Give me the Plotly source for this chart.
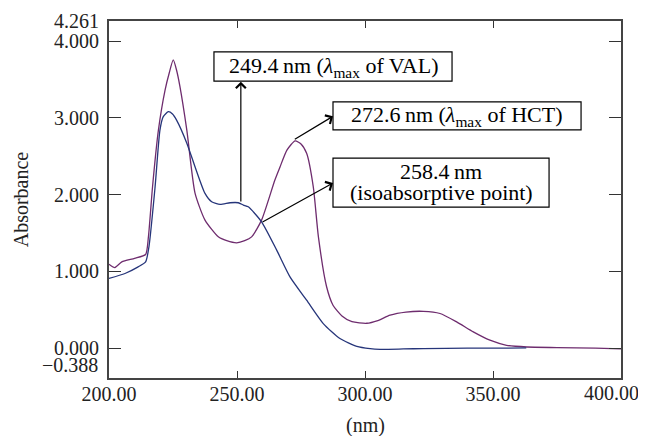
import plotly.graph_objects as go

# Wavelength (nm) and absorbance
wl_mix = [200.0, 202.3, 205.0, 210.0, 214.3, 215.4, 217.0, 219.3, 221.9, 223.5, 225.1, 226.4, 227.7, 230.4,
          233.6, 237.5, 242.7, 246.0, 249.9, 253.0, 255.7, 259.6, 264.8, 266.8, 269.5, 272.7, 275.0, 277.2,
          279.8, 281.8, 285.0, 287.5, 291.0, 294.9, 300.7, 305.0, 309.8, 316.0, 322.8, 329.3, 335.8, 342.3,
          348.8, 355.3, 363.2, 375.0, 390.0, 400.0]
abs_mix = [1.094, 1.05, 1.124, 1.17, 1.22, 1.45, 2.10, 2.84, 3.36, 3.58, 3.754, 3.62, 3.41, 2.84,
           2.02, 1.668, 1.45, 1.40, 1.372, 1.40, 1.45, 1.668, 2.19, 2.36, 2.58, 2.70, 2.66, 2.538,
           2.10, 1.45, 0.80, 0.56, 0.42, 0.345, 0.325, 0.36, 0.43, 0.47, 0.48, 0.452, 0.342, 0.212,
           0.104, 0.038, 0.016, 0.008, 0.0, -0.01]

wl_val = [200.0, 206.25, 211.4, 214.3, 215.6, 218.0, 219.9, 221.2, 223.2, 224.8, 226.4, 230.4, 233.6,
          237.5, 240.1, 243.4, 247.3, 250.5, 252.5, 254.4, 259.6, 265.5, 270.7, 277.2, 283.7, 290.2,
          296.8, 302.0, 305.9, 315.0, 322.7, 340.0, 363.0]
abs_val = [0.908, 0.973, 1.059, 1.124, 1.32, 2.10, 2.84, 3.015, 3.08, 3.05, 2.97, 2.67, 2.363,
           2.016, 1.907, 1.873, 1.894, 1.894, 1.864, 1.841, 1.646, 1.277, 0.929, 0.625, 0.321, 0.126,
           0.025, -0.005, -0.014, -0.01, -0.005, 0.0, 0.003]

x_min, x_max = 200, 400
x_ticks = [200, 250, 300, 350, 400]
x_ticktext = ["200.00", "250.00", "300.00", "350.00", ""]
x_max_label = "400.00"
y_min, y_max = -0.388, 4.261
y_ticks = [0, 1, 2, 3, 4, y_max]
y_ticktext = ["0.000", "1.000", "2.000", "3.000", "4.000", "4.261"]
y_min_label = "\u22120.388"

FONT = "Liberation Serif, Times New Roman, serif"
FS = 20
FS_BOX = 22

fig = go.Figure()
fig.add_trace(go.Scatter(x=wl_mix, y=abs_mix, mode="lines", line=dict(color="#6e2c6e", width=1.3, shape="spline", smoothing=0.6),
                         showlegend=False, hoverinfo="skip"))
fig.add_trace(go.Scatter(x=wl_val, y=abs_val, mode="lines", line=dict(color="#26357a", width=1.3, shape="spline", smoothing=0.6),
                         showlegend=False, hoverinfo="skip"))

# arrows (head at the box, tail on the curve)
arrows = [
    (251.5, 3.47, 251.5, 1.89),
    (287.5, 3.02, 272.0, 2.71),
    (287.5, 2.15, 259.4, 1.633),
]
for hx, hy, tx, ty in arrows:
    fig.add_annotation(x=hx, y=hy, ax=tx, ay=ty, xref="x", yref="y", axref="x", ayref="y",
                       text="", showarrow=True, arrowhead=4, arrowsize=1.6, arrowwidth=1.2, arrowcolor="black",
                       standoff=0)

# label boxes
boxes = [
    (241.0, 334.0, 3.479, 3.858),
    (287.5, 384.4, 2.842, 3.207),
    (287.5, 371.9, 1.837, 2.476),
]
for x0, x1, y0, y1 in boxes:
    fig.add_shape(type="rect", xref="x", yref="y", x0=x0, x1=x1, y0=y0, y1=y1,
                  line=dict(color="black", width=1.2), fillcolor="white", layer="above")

labels = [
    (288.0, 3.667, "249.4\u2009nm (<i>λ</i><sub>max</sub> of VAL)"),
    (336.0, 3.024, "272.6\u2009nm (<i>λ</i><sub>max</sub> of HCT)"),
    (329.7, 2.305, "258.4\u2009nm"),
    (329.7, 2.025, "(isoabsorptive point)"),
]
for lx, ly, t in labels:
    fig.add_annotation(x=lx, y=ly, xref="x", yref="y", xanchor="center", yanchor="middle",
                       text=t, showarrow=False, font=dict(family=FONT, size=FS_BOX, color="black"))

# x-axis title
fig.add_annotation(x=0.5, y=0, xref="paper", yref="paper", xanchor="center", yanchor="middle",
                   yshift=-47, text="(nm)", showarrow=False, font=dict(family=FONT, size=FS, color="#222"))
# lower y limit label (raised above the x tick labels, as in the original)
fig.add_annotation(x=0, y=y_min, xref="paper", yref="y", xanchor="right", yanchor="middle",
                   xshift=-9, yshift=13, text=y_min_label, showarrow=False,
                   font=dict(family=FONT, size=FS, color="#222"))
# last x tick label, kept inside the page
fig.add_annotation(x=x_max, y=0, xref="x", yref="paper", xanchor="right", yanchor="middle",
                   xshift=20, yshift=-15, text=x_max_label, showarrow=False,
                   font=dict(family=FONT, size=FS, color="#222"))

fig.update_layout(
    width=638, height=428,
    margin=dict(l=101, r=25, t=13, b=58, autoexpand=False),
    plot_bgcolor="white", paper_bgcolor="white",
    font=dict(family=FONT, size=FS, color="#222"),
    xaxis=dict(range=[x_min, x_max], tickvals=x_ticks, ticktext=x_ticktext, ticks="inside", ticklen=7,
               tickwidth=1.3, tickcolor="#333", showline=True, linecolor="#444", linewidth=2, mirror="ticks",
               showgrid=False, zeroline=False, automargin=False, ticklabelstandoff=-3,
               ticklabeloverflow="allow"),
    yaxis=dict(range=[y_min, y_max], tickvals=y_ticks, ticktext=y_ticktext, ticks="inside", ticklen=12,
               tickwidth=1.3, tickcolor="#333", showline=True, linecolor="#444", linewidth=2, mirror="ticks",
               showgrid=False, zeroline=False, ticklabelstandoff=4, automargin=False,
               ticklabeloverflow="allow",
               title=dict(text="Absorbance", standoff=20, font=dict(family=FONT, size=FS))),
)

fig.write_html("out.html")
